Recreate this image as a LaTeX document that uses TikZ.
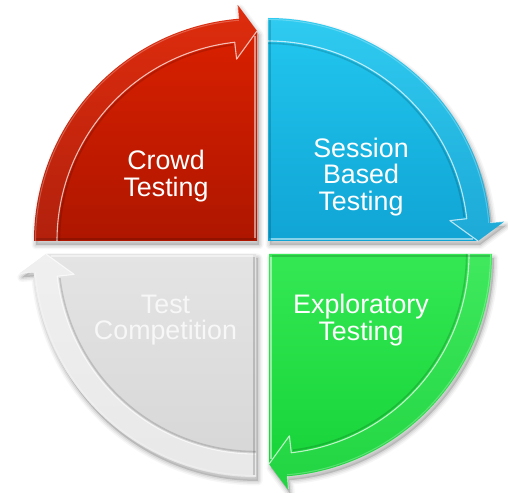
\documentclass[tikz,border=0pt]{standalone}
\usepackage{fontspec}
\setmainfont{Liberation Sans}
\definecolor{redtop}{HTML}{DE2100}
\definecolor{redbot}{HTML}{AE1600}
\definecolor{bluetop}{HTML}{22C8F0}
\definecolor{bluebot}{HTML}{10A4D4}
\definecolor{greentop}{HTML}{34E854}
\definecolor{greenbot}{HTML}{14D236}
\definecolor{graytop}{HTML}{E4E4E4}
\definecolor{graybot}{HTML}{D6D6D6}

% outline of one quarter: pie sector whose outer rim ends in an arrow head
\newcommand\segshape[1]{%
  \path[#1] (0,0) -- (\sa:223) arc[start angle=\sa, end angle=\ba, radius=223]
    -- (\ba:237) -- (\ea:210) -- cycle;}

% #1 corner, #2 start angle, #3 top colour, #4 bottom colour, #5 rim brightening
\newcommand\cyclesegment[5]{%
  \begin{scope}[shift={#1}]
    \pgfmathsetmacro\sa{#2}
    \pgfmathsetmacro\ea{#2-90}
    \pgfmathsetmacro\ba{#2-85.3}
    \pgfmathsetmacro\bi{#2-83.6}
    % soft shadow
    \foreach \w/\o in {9/0.035,6/0.05,3/0.07}{%
      \segshape{fill=black, draw=black, opacity=\o, line width=\w, line join=round, shift={(2,-4)}}}
    % body
    \segshape{top color=#3, bottom color=#4}
    % arrow rim
    \path[fill=white, fill opacity=#5] (\sa:223) arc[start angle=\sa, end angle=\ba, radius=223]
      -- (\ba:237) -- (\ea:210) -- (\bi:183) -- (\bi:200)
      arc[start angle=\bi, end angle=\sa, radius=200] -- cycle;
    \draw[black, opacity=0.14, line width=1.6] (\sa:197.6) arc[start angle=\sa, end angle=\bi+0.6, radius=197.6];
    \draw[white, opacity=0.7, line width=1.1, line join=round]
      (\sa:200) arc[start angle=\sa, end angle=\bi, radius=200] -- (\bi:183) -- (\ea:210);
    \draw[white, opacity=0.25, line width=1] (\sa:221.5) arc[start angle=\sa, end angle=\ba, radius=221.5];
    \draw[white, opacity=0.45, line width=1] (\ba:223) -- (\ba:236);
    % bevelled straight edges
    \draw[white, opacity=0.5, line width=1.6, shift={(\ea+90:2.2)}] (\ea:3) -- (\ea:205);
    \draw[black, opacity=0.16, line width=1.8, shift={(\sa-90:1.8)}] (\sa:3) -- (\sa:221);
  \end{scope}}

\tikzset{
  label/.style={text=white, align=center, font=\fontsize{26.8}{26.8}\selectfont, inner sep=0pt}
}

\begin{document}
\begin{tikzpicture}[x=1pt,y=1pt]
  \useasboundingbox (0,0) rectangle (508,492);

  \cyclesegment{(256,238)}{270}{graytop}{graybot}{0.45}
  \cyclesegment{(269,238)}{0}{greentop}{greenbot}{0.06}
  \cyclesegment{(268,251)}{90}{bluetop}{bluebot}{0.06}
  \cyclesegment{(257,251)}{180}{redtop}{redbot}{0.05}

  \node[label] (crowd)   at (166,316) {Crowd\\Testing};
  \node[label] (session) at (361,315) {Session\\Based\\Testing};
  \node[label] (explore) at (361,172) {Exploratory\\Testing};
  \node[label, text=white!97!black] (compete) at (165.5,172) {Test\\Competition};
\end{tikzpicture}
\end{document}
